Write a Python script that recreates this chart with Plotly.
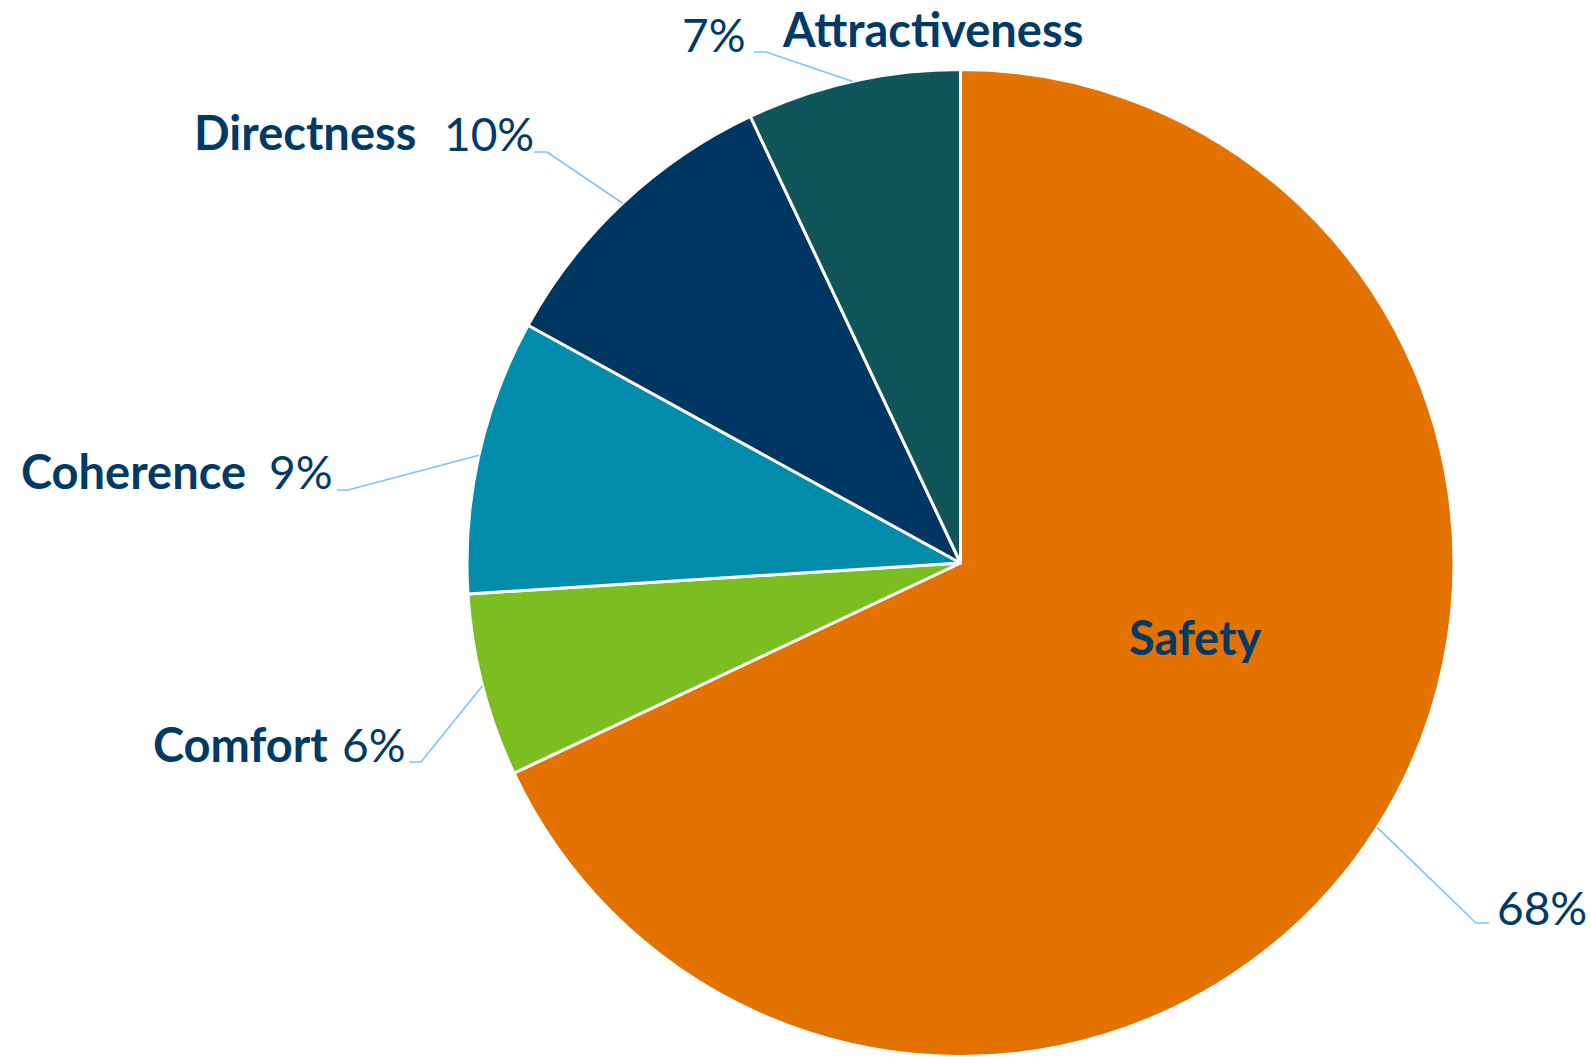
import math
import plotly.graph_objects as go

categories = ["Safety", "Comfort", "Coherence", "Directness", "Attractiveness"]
values = [68, 6, 9, 10, 7]
colors = ["#E47200", "#7BBE22", "#008CAA", "#003662", "#10555A"]
pct_labels = ["68%", "6%", "9%", "10%", "7%"]

W, H = 1591, 1057
CX, CY, R = 960.5, 563, 493.5
TXT = "#003A66"
LINE = "#7DC3F8"
FONT = "Lato"

fig = go.Figure(go.Pie(
    labels=categories, values=values, sort=False, direction="clockwise",
    rotation=0, textinfo="none", hoverinfo="label+percent",
    marker=dict(colors=colors, line=dict(color="white", width=3)),
    domain=dict(x=[(CX - R) / W, (CX + R) / W], y=[1 - (CY + R) / H, 1 - (CY - R) / H]),
    showlegend=False,
))

def px(x):
    return x / W

def py(y):
    return 1 - y / H

# label layout: elbow point, horizontal tail end, name box, number box
layout_info = {
    "Safety":         dict(elbow=(1476, 923), tail=(1489, 923), name=None, num=(1495, 907, "left")),
    "Comfort":        dict(elbow=(421, 762), tail=(409, 762), name=(330, 744, "right"), num=(340, 744, "left")),
    "Coherence":      dict(elbow=(348, 490), tail=(337, 490), name=(248, 471, "right"), num=(267, 472, "left")),
    "Directness":     dict(elbow=(547, 152), tail=(534, 152), name=(418, 132, "right"), num=(442, 134, "left")),
    "Attractiveness": dict(elbow=(766, 52), tail=(754, 52), name=(780, 29, "left"), num=(748, 35, "right")),
}

total = sum(values)
cum = 0
annotations = []
shapes = []
for cat, v, pl in zip(categories, values, pct_labels):
    mid = (cum + v / 2) / total * 2 * math.pi
    cum += v
    ex = CX + R * math.sin(mid)
    ey = CY - R * math.cos(mid)
    info = layout_info[cat]
    (bx, by), (tx, ty) = info["elbow"], info["tail"]
    shapes.append(dict(type="path", xref="paper", yref="paper",
                       path=f"M {px(ex)},{py(ey)} L {px(bx)},{py(by)} L {px(tx)},{py(ty)}",
                       line=dict(color=LINE, width=1.6)))
    if info["name"]:
        nx, ny, anc = info["name"]
        annotations.append(dict(x=px(nx), y=py(ny), xref="paper", yref="paper",
                                text=f"<b>{cat}</b>", showarrow=False, xanchor=anc, yanchor="middle",
                                font=dict(family=FONT, size=47, color=TXT)))
    mx, my, anc = info["num"]
    annotations.append(dict(x=px(mx), y=py(my), xref="paper", yref="paper",
                            text=pl, showarrow=False, xanchor=anc, yanchor="middle",
                            font=dict(family=FONT, size=46, color=TXT)))

# inside label for Safety
annotations.append(dict(x=px(1195), y=py(637), xref="paper", yref="paper",
                        text="<b>Safety</b>", showarrow=False, xanchor="center", yanchor="middle",
                        font=dict(family=FONT, size=47, color=TXT)))

fig.update_layout(width=W, height=H, margin=dict(l=0, r=0, t=0, b=0),
                  paper_bgcolor="white", plot_bgcolor="white",
                  annotations=annotations, shapes=shapes)
fig.write_html("out.html")
